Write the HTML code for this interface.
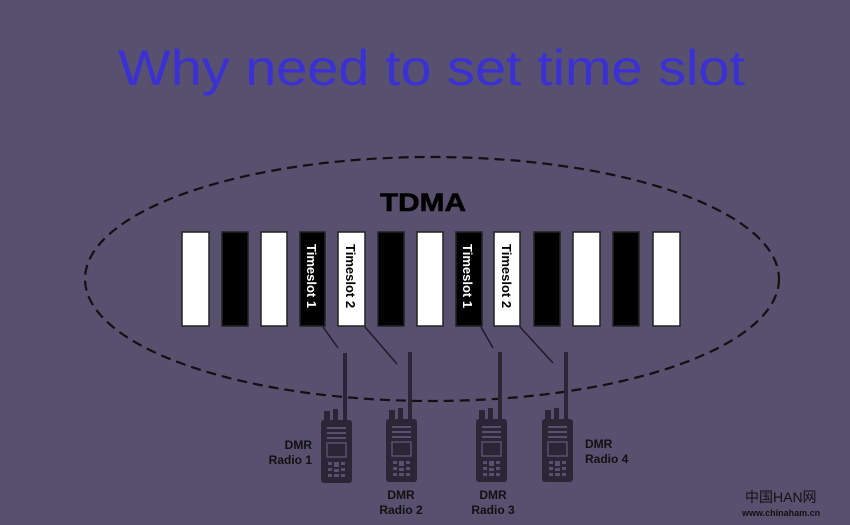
<!DOCTYPE html>
<html><head><meta charset="utf-8"><style>
html,body{margin:0;padding:0;background:#57506f;}
svg{display:block;}
</style></head><body>
<svg width="850" height="525" viewBox="0 0 850 525" xmlns="http://www.w3.org/2000/svg">
<defs>
<g id="radio">
  <rect x="22" y="-67" width="4" height="70" fill="#2a2636"/>
  <rect x="3" y="-9" width="6" height="10" fill="#2a2636"/>
  <rect x="12" y="-11" width="5" height="12" fill="#2a2636"/>
  <rect x="0" y="0" width="31" height="63" rx="3" fill="#2a2636"/>
  <rect x="6" y="7" width="19" height="2" fill="#57506f"/>
  <rect x="6" y="12" width="19" height="2" fill="#57506f"/>
  <rect x="6" y="17" width="19" height="2" fill="#57506f"/>
  <rect x="6" y="23" width="19" height="14" fill="none" stroke="#57506f" stroke-width="1.5"/>
  <g fill="#57506f">
    <rect x="7" y="42" width="4" height="3"/><rect x="13" y="42" width="5" height="5"/><rect x="20" y="42" width="4" height="3"/>
    <rect x="7" y="48" width="4" height="3"/><rect x="13" y="49" width="5" height="3"/><rect x="20" y="48" width="4" height="3"/>
    <rect x="7" y="54" width="4" height="3"/><rect x="13" y="54" width="5" height="3"/><rect x="20" y="54" width="4" height="3"/>
  </g>
</g>
</defs>
<text x="118" y="85" font-family="Liberation Sans, sans-serif" font-size="50" fill="#3b30d4" textLength="627" lengthAdjust="spacingAndGlyphs">Why need to set time slot</text>
<ellipse cx="432" cy="279" rx="347" ry="122" fill="none" stroke="#111" stroke-width="2.2" stroke-dasharray="10,6"/>
<text x="380" y="211" font-family="Liberation Sans, sans-serif" font-weight="bold" font-size="25" fill="#000" textLength="86" lengthAdjust="spacingAndGlyphs" stroke="#000" stroke-width="0.6">TDMA</text>
<g stroke="#222" stroke-width="1.5">
<rect x="182" y="232" width="27" height="94" fill="#fff"/>
<rect x="222" y="232" width="26" height="94" fill="#000"/>
<rect x="261" y="232" width="26" height="94" fill="#fff"/>
<rect x="300" y="232" width="25" height="94" fill="#000"/>
<rect x="338" y="232" width="27" height="94" fill="#fff"/>
<rect x="378" y="232" width="26" height="94" fill="#000"/>
<rect x="417" y="232" width="26" height="94" fill="#fff"/>
<rect x="456" y="232" width="26" height="94" fill="#000"/>
<rect x="494" y="232" width="26" height="94" fill="#fff"/>
<rect x="534" y="232" width="26" height="94" fill="#000"/>
<rect x="573" y="232" width="27" height="94" fill="#fff"/>
<rect x="613" y="232" width="26" height="94" fill="#000"/>
<rect x="653" y="232" width="27" height="94" fill="#fff"/>
</g>
<g font-family="Liberation Sans, sans-serif" font-weight="bold" font-size="13">
<text transform="translate(307,244) rotate(90)" fill="#fff">Timeslot 1</text>
<text transform="translate(346,244) rotate(90)" fill="#000">Timeslot 2</text>
<text transform="translate(463,244) rotate(90)" fill="#fff">Timeslot 1</text>
<text transform="translate(502,244) rotate(90)" fill="#000">Timeslot 2</text>
</g>
<g stroke="#1e1b2a" stroke-width="1.5">
<line x1="323" y1="327" x2="338" y2="348"/>
<line x1="365" y1="327" x2="397" y2="364"/>
<line x1="481" y1="327" x2="493" y2="348"/>
<line x1="520" y1="327" x2="553" y2="363"/>
</g>
<use href="#radio" x="321" y="420"/>
<use href="#radio" x="386" y="419"/>
<use href="#radio" x="476" y="419"/>
<use href="#radio" x="542" y="419"/>
<g font-family="Liberation Sans, sans-serif" font-weight="bold" font-size="12" fill="#111">
<text x="312" y="449" text-anchor="end">DMR</text>
<text x="312" y="464" text-anchor="end">Radio 1</text>
<text x="401" y="499" text-anchor="middle">DMR</text>
<text x="401" y="514" text-anchor="middle">Radio 2</text>
<text x="493" y="499" text-anchor="middle">DMR</text>
<text x="493" y="514" text-anchor="middle">Radio 3</text>
<text x="585" y="448">DMR</text>
<text x="585" y="463">Radio 4</text>
</g>
<text x="745" y="502" font-family="Liberation Sans, 'Noto Sans CJK SC', sans-serif" font-size="14" fill="#111">中国HAN网</text>
<text x="742" y="516" font-family="Liberation Sans, sans-serif" font-weight="bold" font-size="9" fill="#111">www.chinaham.cn</text>
</svg>
</body></html>
